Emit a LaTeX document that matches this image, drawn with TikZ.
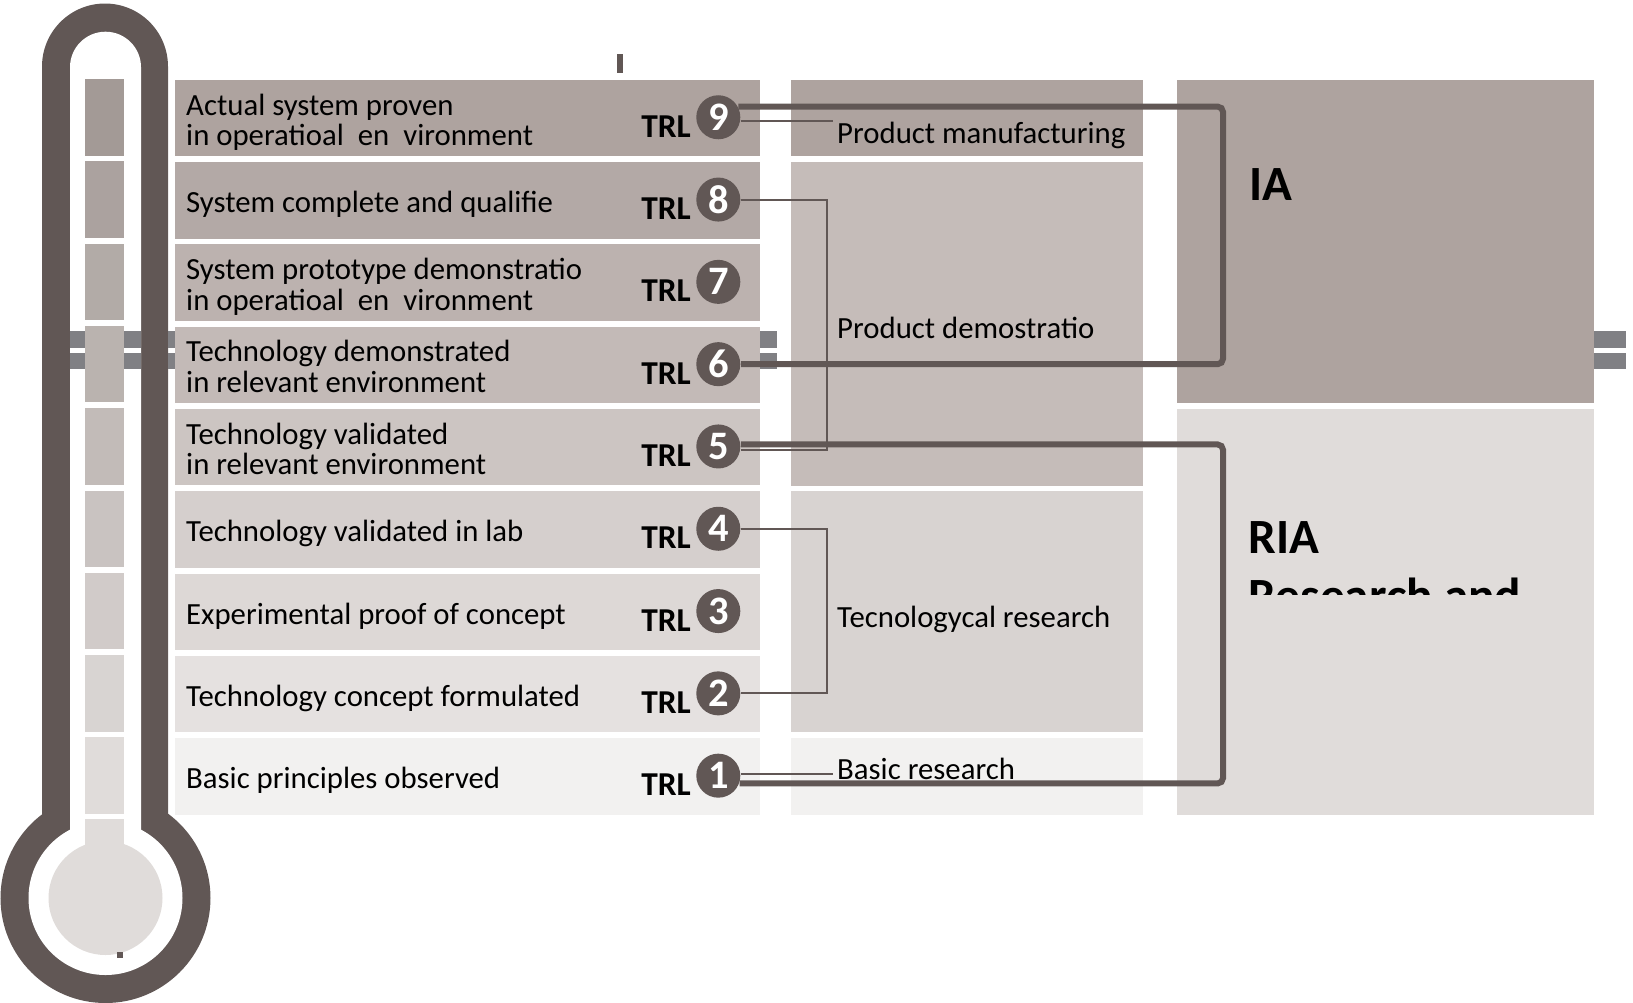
\documentclass[tikz,border=0pt]{standalone}
\usepackage{fontspec}
\setmainfont{Carlito}
\definecolor{thdark}{HTML}{615755}
\definecolor{barg}{HTML}{808084}
\definecolor{segd}{HTML}{A39A96}
\definecolor{segl}{HTML}{E0DCDA}
\definecolor{row9}{HTML}{AEA39F}
\definecolor{row8}{HTML}{B3A9A6}
\definecolor{row7}{HTML}{BCB2AF}
\definecolor{row6}{HTML}{C3BAB7}
\definecolor{row5}{HTML}{CCC5C2}
\definecolor{row4}{HTML}{D5CFCD}
\definecolor{row3}{HTML}{DDD8D6}
\definecolor{row2}{HTML}{E5E1E0}
\definecolor{row1}{HTML}{F2F1F0}
\definecolor{mid3}{HTML}{C5BCB9}
\definecolor{mid2}{HTML}{D8D3D1}
\definecolor{riafill}{HTML}{E0DCDA}

\begin{document}
\begin{tikzpicture}[x=0.01cm,y=-0.01cm,
    box/.style={fill=#1,inner sep=0,anchor=north west},
    lbl/.style={font=\fontsize{8.75}{8.65}\selectfont,inner sep=1pt,anchor=base west},
    rowtext/.style={lbl,align=left},
    trl/.style={font=\bfseries\fontsize{9.5}{10}\selectfont,inner sep=0,anchor=base east},
    num/.style={circle,fill=thdark,text=white,font=\bfseries\fontsize{11.5}{12}\selectfont,minimum size=0.44cm,inner sep=0},
    prog/.style={font=\bfseries\fontsize{14}{16}\selectfont,inner sep=0,anchor=base west},
    thickcon/.style={draw=thdark,line width=1.7pt,rounded corners=1.5pt},
    thincon/.style={draw=thdark,line width=0.6pt}]
  \useasboundingbox (0,0) rectangle (1633,1002);
  \fill[thdark] (42,900) -- (42,66.5) arc[start angle=180,end angle=360,radius=63] -- (168,900) -- cycle;
  \fill[thdark] (105.5,898) circle[radius=105];
  \fill[white] (70,900) -- (70,67.2) arc[start angle=180,end angle=360,radius=35.5] -- (141,900) -- cycle;
  \fill[white] (105.5,898) circle[radius=77];
  \foreach \a/\b in {70/141,168/180,750/777,1585/1625.7}
    \foreach \u/\v in {331/347.7,352.7/369.3}
      \fill[barg] (\a,\u) rectangle (\b,\v);
  \fill[segl] (85,819.3) rectangle (124.3,898);
  \fill[segl] (105.5,898) circle[radius=57];
  \fill[thdark] (617.3,54) rectangle (622.7,73.3);
  \fill[thdark] (116.7,952.3) rectangle (122.7,957.7);
  \foreach[evaluate={79+(9-\n)*82.3} as \ty,evaluate={117.25+(9-\n)*82.3} as \cy,evaluate={(\n-1)*12.5} as \sp] \n/\dy/\txt in {
      9/28.2/{Actual system proven\\in operatioal\hspace{4pt}en\hspace{4pt}vironment},
      8/13/{System complete and qualifie},
      7/28.2/{System prototype demonstratio\\in operatioal\hspace{4pt}en\hspace{4pt}vironment},
      6/28.2/{Technology demonstrated\\in relevant environment},
      5/28.2/{Technology validated\\in relevant environment},
      4/13/{Technology validated in lab},
      3/13/{Experimental proof of concept},
      2/13/{Technology concept formulated},
      1/13/{Basic principles observed}} {
    \fill[segd!\sp!segl] (85,\ty) rectangle (124.3,\ty+76.5);
    \node[box=row\n,minimum width=5.847cm,minimum height=0.765cm] (r\n) at (174.3,\ty) {};
    \node[rowtext] (t\n) at (182,\cy+\dy) {\txt};
    \node[trl] (trl\n) at (691.5,\cy+20) {TRL};
    \node[num] (c\n) at (718.3,\cy) {\n};
  }
  \node[box=row9,minimum width=3.523cm,minimum height=0.765cm] (manubox) at (790,79) {};
  \node[box=mid3,minimum width=3.523cm,minimum height=3.234cm] (demobox) at (790,161.3) {};
  \node[box=mid2,minimum width=3.523cm,minimum height=2.411cm] (techbox) at (790,490.5) {};
  \node[box=row1,minimum width=3.523cm,minimum height=0.765cm] (basicbox) at (790,737.4) {};
  \node[box=row9,minimum width=4.166cm,minimum height=3.234cm] (iabox) at (1176.7,79) {};
  \node[box=riafill,minimum width=4.166cm,minimum height=4.057cm] (riabox) at (1176.7,408.2) {};
  \node[lbl] (manu) at (833,143.7) {Product manufacturing};
  \node[lbl] (demo) at (833,338) {Product demostratio};
  \node[lbl] (tech) at (833,627) {Tecnologycal research};
  \node[lbl] (basic) at (833,779.5) {Basic research};
  \node[prog] (ia) at (1249,200) {IA};
  \node[prog] (ria) at (1248,553.3) {RIA};
  \begin{scope}
    \clip (riabox.north west) rectangle (1593.3,594.3);
    \node[prog] (riafull) at (1248,612) {Research and};
  \end{scope}
  \coordinate (iabus) at (1223,0);
  \coordinate (bracket) at (827,0);
  \draw[thickcon] (c9.28) -- (c9.28 -| iabus) -- (c6.east -| iabus) -- (c6.east);
  \draw[thickcon] (c5.5) -- (c5.5 -| iabus) -- (c1.-20 -| iabus) -- (c1.-20);
  \draw[thincon] (c9.-10) -- (c9.-10 -| manu.west);
  \draw[thincon] (c8.east) -- (c8.east -| bracket) -- (c5.-9 -| bracket) -- (c5.-9);
  \draw[thincon] (c4.east) -- (c4.east -| bracket) -- (c2.east -| bracket) -- (c2.east);
  \draw[thincon] (c1.4) -- (c1.4 -| basic.west);
\end{tikzpicture}
\end{document}
